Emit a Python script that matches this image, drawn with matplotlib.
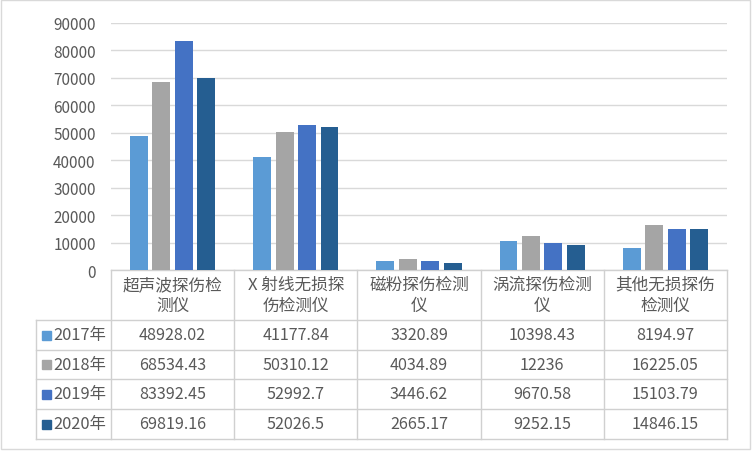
import matplotlib.pyplot as plt
from matplotlib.patches import Rectangle

plt.rcParams['font.family'] = ['Noto Sans CJK SC', 'DejaVu Sans']

categories = ["超声波探伤检\n测仪", "X 射线无损探\n伤检测仪", "磁粉探伤检测\n仪", "涡流探伤检测\n仪", "其他无损探伤\n检测仪"]
years = ["2017年", "2018年", "2019年", "2020年"]
v2017 = [48928.02, 41177.84, 3320.89, 10398.43, 8194.97]
v2018 = [68534.43, 50310.12, 4034.89, 12236, 16225.05]
v2019 = [83392.45, 52992.7, 3446.62, 9670.58, 15103.79]
v2020 = [69819.16, 52026.5, 2665.17, 9252.15, 14846.15]
series = [v2017, v2018, v2019, v2020]
colors = ["#5B9BD5", "#A5A5A5", "#4472C4", "#255E91"]

W, H = 752, 452
fig = plt.figure(figsize=(W / 100, H / 100), dpi=100)

# page overlay in pixel coordinates for table/border
bg = fig.add_axes([0, 0, 1, 1])
bg.set_xlim(0, W)
bg.set_ylim(H, 0)
bg.axis("off")
bg.add_patch(Rectangle((1, 1), W - 3, H - 3, fill=False, edgecolor="#D9D9D9", lw=1))

# plot area
x0, x1, ytop, ybot = 111, 727, 24, 271
ax = fig.add_axes([x0 / W, 1 - ybot / H, (x1 - x0) / W, (ybot - ytop) / H])
n = len(categories)
step, bw = 0.182, 0.145
for i, (vals, c) in enumerate(zip(series, colors)):
    xs = [k + (i - 1.5) * step for k in range(n)]
    ax.bar(xs, vals, width=bw, color=c, zorder=3)
ax.set_xlim(-0.5, n - 0.5)
ax.set_ylim(0, 90000)
ax.set_yticks(range(0, 90001, 10000))
ax.yaxis.grid(True, color="#D9D9D9", lw=1, zorder=0)
ax.set_xticks([])
ax.tick_params(axis="y", length=0, labelsize=11, labelcolor="#595959", pad=11)
for s in ax.spines.values():
    s.set_visible(False)
ax.patch.set_alpha(0)

# data table
lc = "#D0D0D0"
colx = [x0 + k * (x1 - x0) / n for k in range(n + 1)]
rows = [271, 321, 351, 380, 410, 440]
tl = 36
bg.plot([x0, x1], [rows[0], rows[0]], color=lc, lw=1)
for r in rows[1:]:
    bg.plot([tl, x1], [r, r], color=lc, lw=1)
for cx in colx:
    bg.plot([cx, cx], [rows[0], rows[-1]], color=lc, lw=1)
bg.plot([tl, tl], [rows[1], rows[-1]], color=lc, lw=1)

def fmt(v):
    return ("%.2f" % v).rstrip("0").rstrip(".")

for k, cat in enumerate(categories):
    cx = (colx[k] + colx[k + 1]) / 2
    bg.text(cx, (rows[0] + rows[1]) / 2, cat, ha="center", va="center",
            fontsize=12, color="#595959", linespacing=1.35)
for i, (yr, vals, c) in enumerate(zip(years, series, colors)):
    yc = (rows[i + 1] + rows[i + 2]) / 2
    bg.add_patch(Rectangle((42, yc - 4.5), 9, 9, color=c))
    bg.text(53, yc, yr, ha="left", va="center", fontsize=11.8, color="#595959")
    for k, v in enumerate(vals):
        cx = (colx[k] + colx[k + 1]) / 2
        bg.text(cx, yc, fmt(v), ha="center", va="center", fontsize=11.6, color="#595959")

fig.savefig("out.png", dpi=100)
